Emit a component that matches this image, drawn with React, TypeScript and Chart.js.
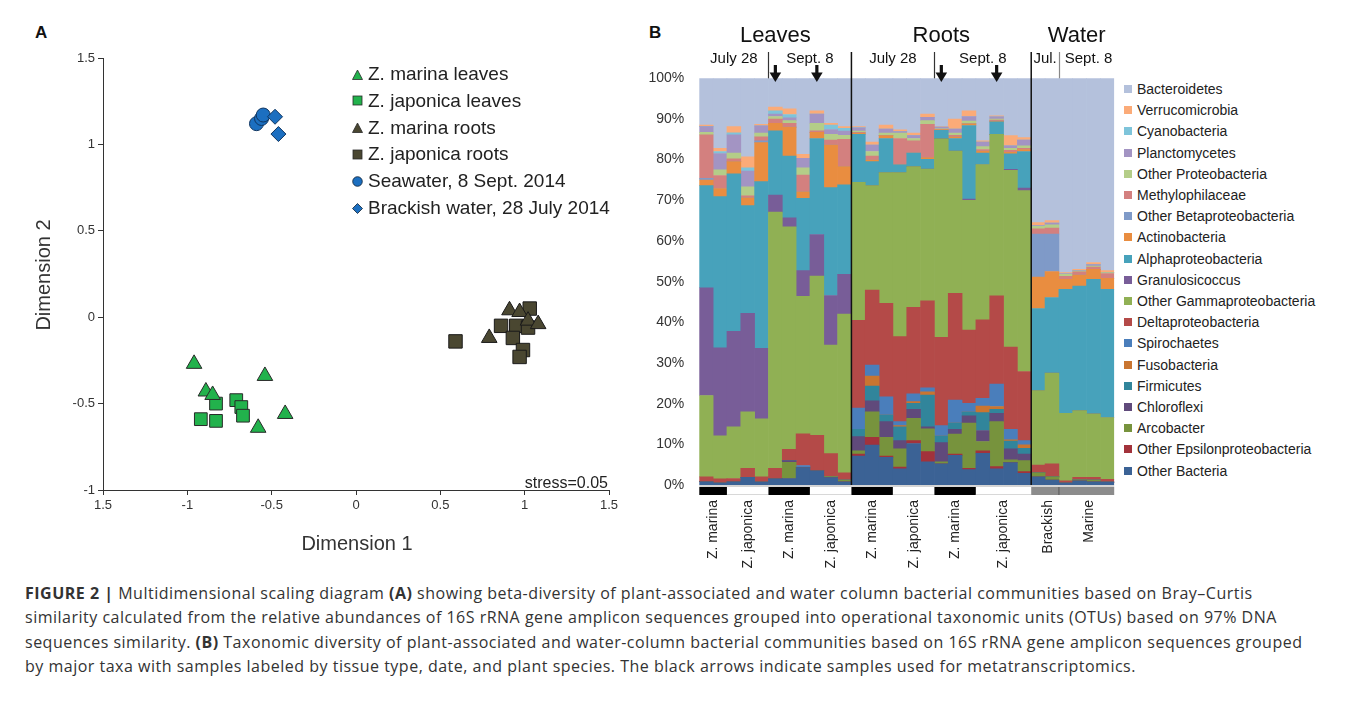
import React, { useEffect, useRef } from "react";
import { Chart, registerables } from "chart.js";
Chart.register(...registerables);

const SANS = '"Liberation Sans", Arial, Helvetica, sans-serif';

// ---------- Panel A : MDS ----------
const xTickLabelsA = ["1.5", "-1", "-0.5", "0", "0.5", "1", "1.5"];
const yTickLabelsA = ["-1", "-0.5", "0", "0.5", "1", "1.5"];

const zmLeavesX = [-0.96, -0.89, -0.85, -0.54, -0.42, -0.58];
const zmLeavesY = [-0.27, -0.43, -0.45, -0.34, -0.56, -0.64];
const zjLeavesX = [-0.92, -0.83, -0.83, -0.71, -0.68, -0.67];
const zjLeavesY = [-0.59, -0.5, -0.6, -0.48, -0.52, -0.57];
const zmRootsX = [0.91, 0.97, 1.02, 1.08, 0.79];
const zmRootsY = [0.04, 0.03, -0.02, -0.04, -0.12];
const zjRootsX = [0.59, 0.86, 0.95, 1.03, 0.93, 0.99, 0.97, 1.02];
const zjRootsY = [-0.14, -0.05, -0.05, 0.05, -0.12, -0.19, -0.23, -0.06];
const seawaterX = [-0.59, -0.56, -0.55];
const seawaterY = [1.12, 1.15, 1.17];
const brackishX = [-0.48, -0.46];
const brackishY = [1.16, 1.06];

const mdsNames = [
  "Z. marina leaves",
  "Z. japonica leaves",
  "Z. marina roots",
  "Z. japonica roots",
  "Seawater, 8 Sept. 2014",
  "Brackish water, 28 July 2014",
];

// ---------- Panel B : taxa ----------
const sampleIds = [
  "L-Jul-Zm1", "L-Jul-Zm2", "L-Jul-Zj1", "L-Jul-Zj2", "L-Jul-Zj3",
  "L-Sep-Zm1", "L-Sep-Zm2", "L-Sep-Zm3", "L-Sep-Zj1", "L-Sep-Zj2", "L-Sep-Zj3",
  "R-Jul-Zm1", "R-Jul-Zm2", "R-Jul-Zm3", "R-Jul-Zj1", "R-Jul-Zj2", "R-Jul-Zj3",
  "R-Sep-Zm1", "R-Sep-Zm2", "R-Sep-Zm3", "R-Sep-Zj1", "R-Sep-Zj2", "R-Sep-Zj3", "R-Sep-Zj4",
  "W-Brack1", "W-Brack2", "W-Mar1", "W-Mar2", "W-Mar3", "W-Mar4",
];

const otherBacteria = [0.8, 0.5, 0.8, 1.9, 0.7, 1.5, 1.6, 4.3, 3.5, 1.8, 0.8, 7.1, 9.8, 6.8, 4.0, 10.2, 5.7, 5.2, 7.3, 3.8, 7.8, 4.0, 5.5, 2.9, 2.0, 1.2, 0.5, 1.0, 0.8, 0.7];
const otherEpsilon = [0, 0, 0, 0, 0, 0, 0, 0, 0, 0, 0, 0.5, 1.9, 0.3, 0.4, 0.7, 2.5, 0, 0.3, 0.3, 0.6, 0.5, 0, 0.4, 0, 0, 0, 0, 0, 0];
const arcobacter = [0, 0, 0, 0, 0, 0, 4.0, 0, 0, 0.3, 0.4, 0.8, 6.3, 4.6, 4.5, 5.5, 5.6, 0.5, 4.9, 11.1, 2.3, 11.1, 0.7, 2.7, 1.0, 0.8, 0, 0.3, 0.4, 0];
const chloroflexi = [0, 0, 0, 0, 0, 0, 0.4, 0, 0, 0, 0, 3.5, 2.7, 3.9, 2.0, 2.2, 0.5, 4.7, 1.2, 1.8, 2.7, 2.0, 2.7, 1.6, 0, 0, 0, 0, 0, 0];
const firmicutes = [0, 0, 0, 0, 0, 0, 0, 0, 0, 0, 0, 1.8, 3.6, 1.6, 3.4, 1.5, 7.8, 1.6, 1.5, 0.9, 4.4, 1.0, 1.9, 1.4, 0, 0, 0, 0, 0, 0];
const fusobacteria = [0, 0, 0, 0, 0, 0, 0, 0, 0, 0, 0, 0, 2.5, 0, 0.3, 0.4, 0.8, 0, 0, 0, 1.6, 0.7, 0.3, 0.9, 0, 0, 0, 0, 0, 0];
const spirochaetes = [0, 0, 0, 0, 0, 0, 0, 0.5, 0, 0, 0, 5.2, 2.7, 4.5, 1.0, 1.9, 1.0, 2.6, 5.7, 2.2, 1.9, 5.5, 2.6, 1.0, 0, 0, 0, 0, 0, 0];
const deltaproteobacteria = [1.2, 1.0, 0.8, 2.2, 1.3, 2.6, 2.8, 7.8, 8.7, 5.6, 1.8, 21.6, 18.4, 23.0, 20.9, 21.3, 21.4, 21.7, 26.2, 18.0, 19.3, 21.7, 20.2, 17.0, 1.9, 3.2, 0.5, 0.6, 0.7, 0.7];
const otherGamma = [20.0, 10.6, 12.7, 13.9, 14.3, 63.0, 54.7, 33.8, 39.2, 26.7, 39.0, 33.9, 25.7, 32.1, 40.3, 34.6, 32.4, 48.8, 35.0, 31.9, 38.2, 39.7, 43.5, 44.5, 18.3, 22.3, 16.6, 16.4, 15.6, 15.2];
const granulosicoccus = [26.5, 21.6, 23.5, 24.2, 17.3, 4.2, 2.2, 6.3, 10.2, 12.2, 9.8, 0, 0, 0, 0, 0, 0, 0, 0, 0.3, 0, 0, 0.2, 0.6, 0, 0, 0, 0, 0, 0];
const alphaproteobacteria = [25.1, 37.2, 38.7, 26.5, 41.0, 15.8, 15.2, 17.8, 23.6, 26.5, 22.0, 11.8, 5.9, 8.4, 1.9, 3.3, 2.4, 2.1, 3.1, 18.1, 2.8, 3.1, 3.8, 9.0, 20.2, 18.6, 30.5, 30.6, 33.1, 31.5];
const actinobacteria = [1.4, 2.0, 3.0, 1.9, 9.6, 1.8, 7.1, 1.6, 1.5, 10.5, 4.5, 0.3, 0.4, 0.7, 0, 0, 0.4, 0.2, 0.4, 0.4, 0.5, 0.2, 0.4, 0.5, 7.7, 6.4, 2.5, 2.7, 2.4, 2.7];
const otherBeta = [0.4, 0, 0, 0, 0.4, 0, 0, 0, 0, 0, 0, 0, 0, 0, 0, 0, 0, 0, 0, 0, 0, 0, 0, 0, 10.6, 9.2, 0, 0, 0, 0];
const methylophilaceae = [10.7, 3.2, 0.7, 0.5, 1.0, 1.1, 0.9, 4.1, 0.4, 1.2, 6.7, 0.2, 1.0, 0, 6.5, 3.0, 8.2, 0, 0.4, 0, 0.4, 0.2, 0.5, 0.3, 1.3, 1.5, 0.7, 0.8, 0.6, 1.2];
const otherProteo = [0.6, 1.4, 1.4, 2.2, 0.9, 0.6, 0.7, 1.8, 1.8, 1.4, 1.0, 0.3, 1.1, 0.6, 1.3, 0.6, 0.9, 0.2, 0.5, 0.7, 0.7, 0.3, 0.5, 0.6, 0.6, 0.8, 0.5, 0.2, 0.2, 0.2];
const planctomycetes = [1.4, 4.0, 4.5, 3.9, 1.8, 0.6, 0.7, 2.3, 2.3, 1.2, 1.0, 0.8, 1.6, 1.0, 0.4, 0.7, 0.8, 0.4, 1.0, 1.1, 1.1, 0.5, 0.6, 1.4, 0.2, 0.4, 0.1, 0.1, 0.4, 0.1];
const cyanobacteria = [0.1, 0.5, 0.5, 0.8, 0, 0.8, 0.8, 0, 0, 1.1, 0.7, 0.1, 0, 0, 0, 0, 0, 0, 0, 0, 0, 0, 0, 0, 0, 0, 0, 0, 0, 0];
const verrucomicrobia = [0.3, 0.8, 1.5, 2.7, 0.4, 0.9, 1.4, 1.0, 0.8, 0.4, 0.4, 0.2, 0.7, 1.0, 0.4, 0.6, 0.8, 0.1, 2.5, 1.4, 0.3, 0.3, 2.5, 0.6, 0.7, 0.6, 0.3, 0.3, 0.5, 0.4];
const bacteroidetes = [11.5, 17.2, 11.9, 19.3, 11.3, 7.1, 7.5, 18.7, 8.0, 11.1, 11.9, 11.9, 15.7, 11.5, 12.7, 13.5, 8.8, 11.9, 10.0, 8.0, 15.4, 9.2, 14.1, 14.6, 35.5, 35.0, 47.8, 47.0, 45.3, 47.3];

// stacking order, bottom to top
const taxa = [
  { name: "Other Bacteria", color: "#3b6295", values: otherBacteria },
  { name: "Other Epsilonproteobacteria", color: "#a2323b", values: otherEpsilon },
  { name: "Arcobacter", color: "#77933d", values: arcobacter },
  { name: "Chloroflexi", color: "#604a7b", values: chloroflexi },
  { name: "Firmicutes", color: "#31859b", values: firmicutes },
  { name: "Fusobacteria", color: "#c97530", values: fusobacteria },
  { name: "Spirochaetes", color: "#4a7ebb", values: spirochaetes },
  { name: "Deltaproteobacteria", color: "#b44a48", values: deltaproteobacteria },
  { name: "Other Gammaproteobacteria", color: "#90b054", values: otherGamma },
  { name: "Granulosicoccus", color: "#785d98", values: granulosicoccus },
  { name: "Alphaproteobacteria", color: "#47a2bb", values: alphaproteobacteria },
  { name: "Actinobacteria", color: "#e98d40", values: actinobacteria },
  { name: "Other Betaproteobacteria", color: "#7f9ac8", values: otherBeta },
  { name: "Methylophilaceae", color: "#d3807f", values: methylophilaceae },
  { name: "Other Proteobacteria", color: "#b4cd88", values: otherProteo },
  { name: "Planctomycetes", color: "#a394c3", values: planctomycetes },
  { name: "Cyanobacteria", color: "#7ec4da", values: cyanobacteria },
  { name: "Verrucomicrobia", color: "#fbab78", values: verrucomicrobia },
  { name: "Bacteroidetes", color: "#b4c1dc", values: bacteroidetes },
];

const tissueTitles = ["Leaves", "Roots", "Water"];
const tissueRanges = [[0, 10], [11, 23], [24, 29]];
const dateLabels = ["July 28", "Sept. 8", "July 28", "Sept. 8", "Jul.", "Sept. 8"];
const dateRanges = [[0, 4], [5, 10], [11, 16], [17, 23], [24, 25], [26, 29]];
const speciesLabels = ["Z. marina", "Z. japonica", "Z. marina", "Z. japonica", "Z. marina", "Z. japonica", "Z. marina", "Z. japonica", "Brackish", "Marine"];
const speciesRanges = [[0, 1], [2, 4], [5, 7], [8, 10], [11, 13], [14, 16], [17, 19], [20, 23], [24, 25], [26, 29]];
const speciesFill = ["#000", "#fff", "#000", "#fff", "#000", "#fff", "#000", "#fff", "#8c8c8c", "#8c8c8c"];
const arrowSamples = [5, 8, 17, 21];
const dateSeparators = [4.5, 16.5, 25.5];
const tissueSeparators = [10.5, 23.5];

const captionLines = [
  [["FIGURE 2 |", true], [" Multidimensional scaling diagram ", false], ["(A)", true], [" showing beta-diversity of plant-associated and water column bacterial communities based on Bray–Curtis", false]],
  [["similarity calculated from the relative abundances of 16S rRNA gene amplicon sequences grouped into operational taxonomic units (OTUs) based on 97% DNA", false]],
  [["sequences similarity. ", false], ["(B)", true], [" Taxonomic diversity of plant-associated and water-column bacterial communities based on 16S rRNA gene amplicon sequences grouped", false]],
  [["by major taxa with samples labeled by tissue type, date, and plant species. The black arrows indicate samples used for metatranscriptomics.", false]],
];

const decorPlugin = {
  id: "decor",
  afterDraw(chart: any) {
    const ctx = chart.ctx;
    const xs = chart.scales.x;
    const area = chart.chartArea;
    const px = (v: number) => xs.getPixelForValue(v);
    ctx.save();
    ctx.fillStyle = "#111";
    ctx.textAlign = "center";
    ctx.textBaseline = "middle";
    ctx.font = `22px ${SANS}`;
    tissueTitles.forEach((t, i) => {
      const [a, b] = tissueRanges[i];
      ctx.fillText(t, (px(a - 0.5) + px(b + 0.5)) / 2 + (i === 2 ? 4 : 0), 16);
    });
    ctx.font = `15px ${SANS}`;
    dateLabels.forEach((t, i) => {
      const [a, b] = dateRanges[i];
      ctx.fillText(t, (px(a - 0.5) + px(b + 0.5)) / 2 + (i === 5 ? 2 : 0), 39);
    });
    // date separators
    dateSeparators.forEach((v, i) => {
      ctx.strokeStyle = i === 2 ? "#888" : "#333";
      ctx.lineWidth = 1.2;
      ctx.beginPath();
      ctx.moveTo(Math.round(px(v)) + 0.5, 32);
      ctx.lineTo(Math.round(px(v)) + 0.5, area.top);
      ctx.stroke();
    });
    // tissue separators
    tissueSeparators.forEach((v) => {
      ctx.strokeStyle = "#111";
      ctx.lineWidth = 1.5;
      ctx.beginPath();
      ctx.moveTo(px(v), 32);
      ctx.lineTo(px(v), area.bottom);
      ctx.stroke();
    });
    // arrows
    ctx.fillStyle = "#111";
    arrowSamples.forEach((i) => {
      const cx = px(i);
      ctx.fillRect(cx - 1.6, 45, 3.2, 8);
      ctx.beginPath();
      ctx.moveTo(cx - 5.8, 52.5);
      ctx.lineTo(cx + 5.8, 52.5);
      ctx.lineTo(cx, 62);
      ctx.closePath();
      ctx.fill();
    });
    // base strip and species band
    ctx.fillStyle = "#d4d4d4";
    ctx.fillRect(area.left, area.bottom, area.right - area.left, 2);
    speciesRanges.forEach(([a, b], i) => {
      const l = px(a - 0.5);
      const r = px(b + 0.5);
      ctx.fillStyle = speciesFill[i];
      ctx.fillRect(l, area.bottom + 2, r - l, 8);
      if (speciesFill[i] === "#fff") {
        ctx.fillStyle = "#cfcfcf";
        ctx.fillRect(l, area.bottom + 9.2, r - l, 0.8);
      }
      if (i === 9) {
        ctx.fillStyle = "#555";
        ctx.fillRect(l - 0.5, area.bottom + 2, 1, 8);
      }
    });
    // species labels
    ctx.fillStyle = "#222";
    ctx.font = `14px ${SANS}`;
    speciesLabels.forEach((t, i) => {
      const [a, b] = speciesRanges[i];
      const cx = (px(a - 0.5) + px(b + 0.5)) / 2 + (i >= 8 ? 3 : 0);
      ctx.save();
      ctx.translate(cx, 480);
      ctx.rotate(-Math.PI / 2);
      ctx.textAlign = "right";
      ctx.textBaseline = "middle";
      ctx.fillText(t, 0, 0);
      ctx.restore();
    });
    ctx.restore();
  },
};

function Marker({ kind, color }: { kind: string; color: string }) {
  const s = 11;
  let shape: any = null;
  if (kind === "triangle") shape = <polygon points="0.5,10.5 5.5,1 10.5,10.5" fill={color} stroke="#2a2a2a" strokeWidth={0.8} />;
  else if (kind === "rect") shape = <rect x={1} y={1} width={9} height={9} fill={color} stroke="#2a2a2a" strokeWidth={0.8} />;
  else if (kind === "circle") shape = <circle cx={5.5} cy={5.5} r={4.8} fill={color} stroke="#123" strokeWidth={0.8} />;
  else shape = <polygon points="5.5,0.5 10.5,5.5 5.5,10.5 0.5,5.5" fill={color} stroke="#123" strokeWidth={0.8} />;
  return (
    <svg width={s} height={s} style={{ position: "absolute", left: 0, top: -5.5 }}>
      {shape}
    </svg>
  );
}

const GREEN = "#22b24c";
const DARK = "#4a4731";
const BLUE = "#1c6fc0";
const mdsMarkers = [
  ["triangle", GREEN],
  ["rect", GREEN],
  ["triangle", DARK],
  ["rect", DARK],
  ["circle", BLUE],
  ["rectRot", BLUE],
];

export default function App() {
  const aRef = useRef<HTMLCanvasElement>(null);
  const bRef = useRef<HTMLCanvasElement>(null);

  useEffect(() => {
    const pts = (xs: number[], ys: number[]) => xs.map((x, i) => ({ x, y: ys[i] }));
    const ds = (label: string, data: any[], style: string, color: string, r: number, border: string) => ({
      label,
      data,
      pointStyle: style,
      pointRadius: r,
      backgroundColor: color,
      borderColor: border,
      borderWidth: 1,
    });
    const chartA = new Chart(aRef.current as HTMLCanvasElement, {
      type: "scatter",
      data: {
        datasets: [
          ds(mdsNames[0], pts(zmLeavesX, zmLeavesY), "triangle", GREEN, 9, "#2a2a2a"),
          ds(mdsNames[1], pts(zjLeavesX, zjLeavesY), "rect", GREEN, 9, "#2a2a2a"),
          ds(mdsNames[2], pts(zmRootsX, zmRootsY), "triangle", DARK, 9, "#1a1a1a"),
          ds(mdsNames[3], pts(zjRootsX, zjRootsY), "rect", DARK, 9.5, "#1a1a1a"),
          ds(mdsNames[5], pts(brackishX, brackishY), "rectRot", BLUE, 7.5, "#0f3560"),
          ds(mdsNames[4], pts(seawaterX, seawaterY), "circle", BLUE, 7, "#0f3560"),
        ] as any,
      },
      options: {
        animation: false,
        responsive: false,
        layout: { padding: { left: 0, top: 58, right: 31, bottom: 0 } },
        plugins: { legend: { display: false }, tooltip: { enabled: false } },
        scales: {
          x: {
            type: "linear",
            min: -1.5,
            max: 1.5,
            ticks: {
              stepSize: 0.5,
              color: "#333",
              font: { family: SANS, size: 13 },
              padding: 3,
              callback: (_v: any, i: number) => xTickLabelsA[i],
            },
            grid: { display: true, drawOnChartArea: false, drawTicks: true, tickLength: 5, color: "#333" },
            border: { display: true, color: "#333", width: 1 },
            afterFit: (s: any) => { s.height = 85; },
          },
          y: {
            type: "linear",
            min: -1,
            max: 1.5,
            ticks: {
              stepSize: 0.5,
              color: "#333",
              font: { family: SANS, size: 13 },
              padding: 3,
              callback: (_v: any, i: number) => yTickLabelsA[i],
            },
            grid: { display: true, drawOnChartArea: false, drawTicks: true, tickLength: 5, color: "#333" },
            border: { display: true, color: "#333", width: 1 },
            afterFit: (s: any) => { s.width = 103; },
          },
        },
      } as any,
    });

    const chartB = new Chart(bRef.current as HTMLCanvasElement, {
      type: "bar",
      data: {
        labels: sampleIds,
        datasets: taxa.map((t) => ({
          label: t.name,
          data: t.values,
          backgroundColor: t.color,
          borderWidth: 0,
          barPercentage: 1,
          categoryPercentage: 1,
        })),
      },
      options: {
        animation: false,
        responsive: false,
        layout: { padding: { left: 0, top: 58.3, right: 5.8, bottom: 0 } },
        plugins: { legend: { display: false }, tooltip: { enabled: false } },
        scales: {
          x: {
            stacked: true,
            ticks: { display: false },
            grid: { display: false },
            border: { display: false },
            afterFit: (s: any) => { s.height = 95; },
          },
          y: {
            stacked: true,
            min: 0,
            max: 100,
            ticks: {
              stepSize: 10,
              color: "#333",
              font: { family: SANS, size: 14 },
              padding: 7,
              callback: (v: any) => `${v}%`,
            },
            grid: { display: false },
            border: { display: false },
            afterFit: (s: any) => { s.width = 59.3; },
          },
        },
      } as any,
      plugins: [decorPlugin],
    });

    return () => {
      chartA.destroy();
      chartB.destroy();
    };
  }, []);

  const legendB = [...taxa].reverse();

  return (
    <div style={{ position: "absolute", left: 0, top: 0, width: 1355, height: 712, background: "#fff", overflow: "hidden", fontFamily: SANS }}>
      <div style={{ position: "absolute", left: 35, top: 23, fontSize: 17, fontWeight: "bold", color: "#111" }}>A</div>
      <div style={{ position: "absolute", left: 649, top: 23, fontSize: 17, fontWeight: "bold", color: "#111" }}>B</div>

      <canvas ref={aRef} width={640} height={575} style={{ position: "absolute", left: 0, top: 0, width: 640, height: 575 }} />
      <canvas ref={bRef} width={480} height={560} style={{ position: "absolute", left: 640, top: 20, width: 480, height: 560 }} />

      {/* Panel A legend */}
      {mdsNames.map((n, i) => (
        <div key={n} style={{ position: "absolute", left: 352, top: 74 + i * 26.8, height: 0 }}>
          <Marker kind={mdsMarkers[i][0]} color={mdsMarkers[i][1]} />
          <div style={{ position: "absolute", left: 16, top: -12, fontSize: 19, lineHeight: "24px", color: "#222", whiteSpace: "nowrap" }}>{n}</div>
        </div>
      ))}
      <div style={{ position: "absolute", left: 420, width: 188, top: 474, fontSize: 16, lineHeight: "18px", textAlign: "right", color: "#222", whiteSpace: "nowrap" }}>stress=0.05</div>
      <div style={{ position: "absolute", left: 257, width: 200, top: 531, fontSize: 20, lineHeight: "24px", textAlign: "center", color: "#333" }}>Dimension 1</div>
      <div style={{ position: "absolute", left: 43, top: 275, width: 0, height: 0 }}>
        <div style={{ position: "absolute", left: -100, top: -12, width: 200, fontSize: 20, lineHeight: "24px", textAlign: "center", color: "#333", transform: "rotate(-90deg)", whiteSpace: "nowrap" }}>Dimension 2</div>
      </div>

      {/* Panel B legend */}
      {legendB.map((t, i) => (
        <div key={t.name} style={{ position: "absolute", left: 1124, top: 89 + i * 21.2, height: 0 }}>
          <div style={{ position: "absolute", left: 0, top: -4, width: 8, height: 8, background: t.color }} />
          <div style={{ position: "absolute", left: 13, top: -9, fontSize: 14, lineHeight: "18px", color: "#222", whiteSpace: "nowrap" }}>{t.name}</div>
        </div>
      ))}

      {/* Caption */}
      <div style={{ position: "absolute", left: 25, top: 581, fontFamily: '"Open Sans", "Noto Sans", sans-serif', fontSize: 16, letterSpacing: "0.5px", lineHeight: "24.3px", color: "#333", whiteSpace: "nowrap" }}>
        {captionLines.map((line, i) => (
          <div key={i}>
            {line.map(([txt, bold], j) => (
              <span key={j} style={{ fontWeight: bold ? 700 : 400 }}>{txt as string}</span>
            ))}
          </div>
        ))}
      </div>
    </div>
  );
}
